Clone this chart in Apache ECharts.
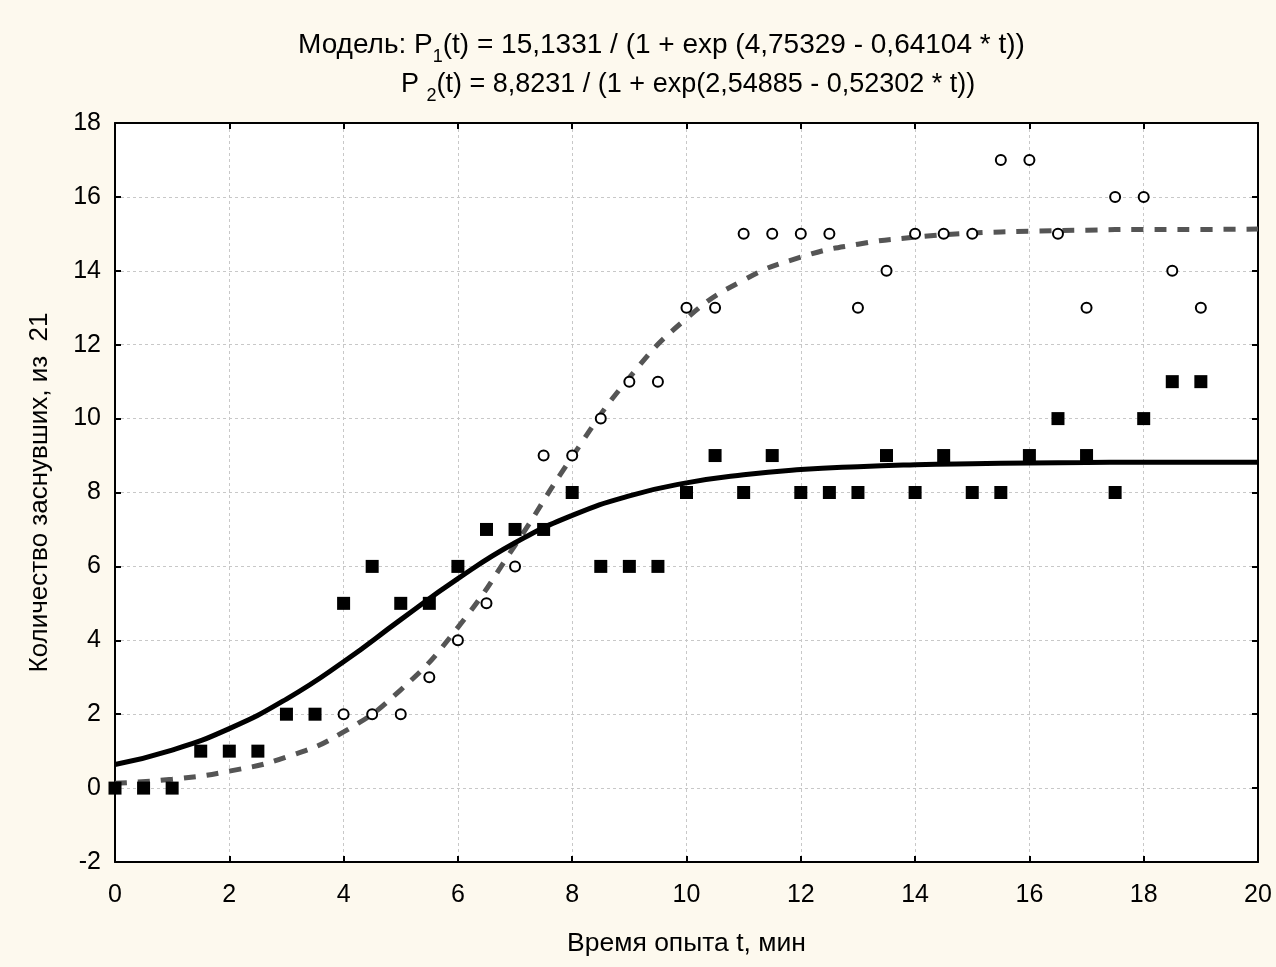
<!DOCTYPE html>
<html><head><meta charset="utf-8">
<script src="https://cdn.jsdelivr.net/npm/echarts@6/dist/echarts.min.js"></script>
<style>html,body{margin:0;padding:0;background:#fdf9ee}#c{width:1276px;height:967px}</style>
</head><body><div id="c"></div>
<script>
// Observed data: squares (group 2) and circles (group 1)
const squareT = [0,0.5,1,1.5,2,2.5,3,3.5,4,4.5,5,5.5,6,6.5,7,7.5,8,8.5,9,9.5,10,10.5,11,11.5,12,12.5,13,13.5,14,14.5,15,15.5,16,16.5,17,17.5,18,18.5,19];
const squareV = [0,0,0,1,1,1,2,2,5,6,5,5,6,7,7,7,8,6,6,6,8,9,8,9,8,8,8,9,8,9,8,8,9,10,9,8,10,11,11];
const circleT = [4,4.5,5,5.5,6,6.5,7,7.5,8,8.5,9,9.5,10,10.5,11,11.5,12,12.5,13,13.5,14,14.5,15,15.5,16,16.5,17,17.5,18,18.5,19];
const circleV = [2,2,2,3,4,5,6,9,9,10,11,11,13,13,15,15,15,15,13,14,15,15,15,17,17,15,13,16,16,14,13];
// Fitted curves at whole minutes
const curveT = [0,1,2,3,4,5,6,7,8,9,10,11,12,13,14,15,16,17,18,19,20];
const curveP1 = [0.13,0.24,0.46,0.84,1.52,2.66,4.35,6.57,8.97,11.11,12.71,13.75,14.37,14.72,14.91,15.02,15.07,15.10,15.12,15.12,15.13];
const curveP2 = [0.64,1.03,1.61,2.41,3.42,4.56,5.67,6.64,7.38,7.91,8.26,8.48,8.62,8.70,8.75,8.78,8.80,8.81,8.82,8.82,8.82];
const xTicks = [0,2,4,6,8,10,12,14,16,18,20];
const yTicks = [-2,0,2,4,6,8,10,12,14,16,18];
const titleLine1 = ['Модель: P','1','(t) = 15,1331 / (1 + exp (4,75329 - 0,64104 * t))'];
const titleLine2 = ['P ','2','(t) = 8,8231 / (1 + exp(2,54885 - 0,52302 * t))'];
const xName = 'Время опыта t, мин';
const yName = 'Количество заснувших, из  21';

const zip = (a,b)=>a.map((v,i)=>[v,b[i]]);
const FONT = '"Liberation Sans", Arial, sans-serif';
const chart = echarts.init(document.getElementById('c'));
const gridLine = {show:true,lineStyle:{color:'#c8c8c8',type:[3,3],width:1}};
const mkRich = (fs)=>({
  n:{fontSize:fs,fontFamily:FONT,color:'#000',lineHeight:34,verticalAlign:'bottom'},
  s:{fontSize:18,fontFamily:FONT,color:'#000',lineHeight:34,verticalAlign:'bottom',padding:[0,0,-7,0]}
});
chart.setOption({
  backgroundColor:'#fdf9ee',
  animation:false,
  graphic:[
    {type:'rect',shape:{x:115,y:123,width:1143,height:739},style:{fill:'#fff'},z:-10},
    {type:'text',left:298,top:31,style:{text:'{n|'+titleLine1[0]+'}{s|'+titleLine1[1]+'}{n|'+titleLine1[2]+'}',rich:mkRich(28)}},
    {type:'text',left:401,top:71,style:{text:'{n|'+titleLine2[0]+'}{s|'+titleLine2[1]+'}{n|'+titleLine2[2]+'}',rich:mkRich(27)}}
  ],
  grid:{left:115,right:18,top:123,bottom:105,show:false},
  xAxis:[{type:'value',min:0,max:20,interval:2,
    name:xName,nameLocation:'middle',nameGap:68,nameTextStyle:{fontSize:26.5,fontFamily:FONT,color:'#000'},
    axisLine:{show:true,onZero:false,lineStyle:{color:'#000',width:2}},
    axisTick:{show:true,inside:true,length:6,lineStyle:{color:'#000',width:2}},
    axisLabel:{fontSize:25,fontFamily:FONT,color:'#000',margin:21,formatter:v=>xTicks.includes(v)?String(v):''},
    splitLine:gridLine},
    {type:'value',position:'top',min:0,max:20,interval:2,
    axisLine:{show:true,onZero:false,lineStyle:{color:'#000',width:2}},
    axisTick:{show:true,inside:true,length:6,lineStyle:{color:'#000',width:2}},
    axisLabel:{show:false},splitLine:{show:false}}],
  yAxis:[{type:'value',min:-2,max:18,interval:2,
    name:yName,nameLocation:'middle',nameGap:62,nameTextStyle:{fontSize:26,fontFamily:FONT,color:'#000'},
    axisLine:{show:true,onZero:false,lineStyle:{color:'#000',width:2}},
    axisTick:{show:true,inside:true,length:6,lineStyle:{color:'#000',width:2}},
    axisLabel:{fontSize:25,fontFamily:FONT,color:'#000',margin:14,formatter:v=>yTicks.includes(v)?String(v):''},
    splitLine:gridLine},
    {type:'value',position:'right',min:-2,max:18,interval:2,
    axisLine:{show:true,onZero:false,lineStyle:{color:'#000',width:2}},
    axisTick:{show:true,inside:true,length:6,lineStyle:{color:'#000',width:2}},
    axisLabel:{show:false},splitLine:{show:false}}],
  series:[
    {type:'line',data:zip(curveT,curveP1),smooth:true,showSymbol:false,symbol:'none',
      lineStyle:{color:'#555555',width:5,type:[12,11]},z:3,clip:true},
    {type:'line',data:zip(curveT,curveP2),smooth:true,showSymbol:false,symbol:'none',
      lineStyle:{color:'#000',width:5},z:4,clip:true},
    {type:'scatter',data:zip(squareT,squareV),symbol:'rect',symbolSize:13,
      itemStyle:{color:'#000',opacity:1},z:5,clip:false},
    {type:'scatter',data:zip(circleT,circleV),symbol:'circle',symbolSize:10,
      itemStyle:{color:'#fff',borderColor:'#000',borderWidth:2,opacity:1},z:6,clip:false}
  ]
});
</script></body></html>
